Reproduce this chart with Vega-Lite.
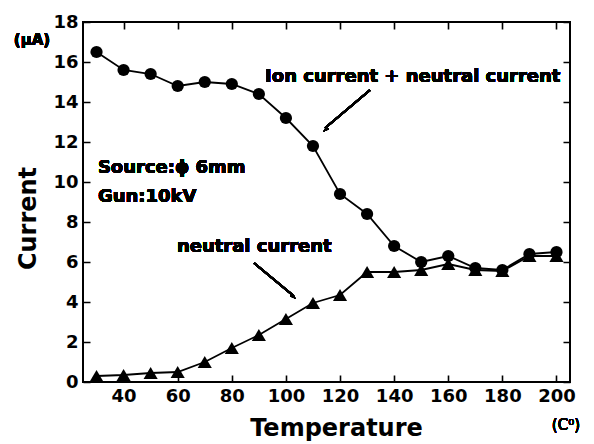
{
  "$schema": "https://vega.github.io/schema/vega-lite/v6.json",
  "width": 487,
  "height": 360,
  "autosize": "none",
  "padding": {"left": 83, "top": 22, "right": 24, "bottom": 62},
  "background": "white",
  "config": {
    "view": {"stroke": "black", "strokeWidth": 2},
    "axis": {
      "domain": false, "ticks": false, "grid": true, "gridColor": "black", "gridOpacity": 1, "gridWidth": 1.6,
      "labelFont": "DejaVu Sans", "labelFontWeight": "bold", "labelFontSize": 18,
      "labelColor": "black", "titleFont": "DejaVu Sans", "titleFontWeight": "bold", "titleFontSize": 24,
      "titleColor": "black"
    }
  },
  "data": {"values": [
    {"T": 30, "total": 16.5, "neutral": 0.3},
    {"T": 40, "total": 15.6, "neutral": 0.35},
    {"T": 50, "total": 15.4, "neutral": 0.45},
    {"T": 60, "total": 14.8, "neutral": 0.5},
    {"T": 70, "total": 15.0, "neutral": 1.0},
    {"T": 80, "total": 14.9, "neutral": 1.7},
    {"T": 90, "total": 14.4, "neutral": 2.35},
    {"T": 100, "total": 13.2, "neutral": 3.15},
    {"T": 110, "total": 11.8, "neutral": 3.95},
    {"T": 120, "total": 9.4, "neutral": 4.35},
    {"T": 130, "total": 8.4, "neutral": 5.5},
    {"T": 140, "total": 6.8, "neutral": 5.5},
    {"T": 150, "total": 6.0, "neutral": 5.6},
    {"T": 160, "total": 6.3, "neutral": 5.9},
    {"T": 170, "total": 5.7, "neutral": 5.6},
    {"T": 180, "total": 5.6, "neutral": 5.55},
    {"T": 190, "total": 6.4, "neutral": 6.3},
    {"T": 200, "total": 6.5, "neutral": 6.3}
  ]},
  "resolve": {"axis": {"x": "independent", "y": "independent"}},
  "layer": [
    {
      "mark": {"type": "line", "color": "black", "strokeWidth": 1.8},
      "encoding": {
        "x": {"field": "T", "type": "quantitative", "scale": {"domain": [25, 205], "nice": false, "zero": false},
          "axis": {"orient": "bottom", "values": [40, 60, 80, 100, 120, 140, 160, 180, 200], "gridDash": [7, 346, 7, 2000], "labelPadding": 5,
            "title": "Temperature", "titleX": 253, "titleY": 53, "titleBaseline": "alphabetic", "titleAnchor": null, "titleAlign": "center"}},
        "y": {"field": "total", "type": "quantitative", "scale": {"domain": [0, 18], "nice": false, "zero": false},
          "axis": {"orient": "left", "values": [0, 2, 4, 6, 8, 10, 12, 14, 16, 18], "gridDash": [7, 473, 7, 2000], "labelPadding": 5,
            "title": "Current", "titleX": -55, "titleY": 196, "titleAngle": -90, "titleBaseline": "middle", "titleAlign": "center"}}
      }
    },
    {
      "mark": {"type": "point", "shape": "circle", "filled": true, "color": "black", "opacity": 1, "size": 150},
      "encoding": {
        "x": {"field": "T", "type": "quantitative",
          "axis": {"orient": "top", "values": [30, 50, 70, 90, 110, 130, 150, 170, 190], "gridDash": [4, 352, 4, 2000], "labels": false, "title": null}},
        "y": {"field": "total", "type": "quantitative",
          "axis": {"orient": "right", "values": [1, 3, 5, 7, 9, 11, 13, 15, 17], "gridDash": [4, 479, 4, 2000], "labels": false, "title": null}}
      }
    },
    {
      "mark": {"type": "line", "color": "black", "strokeWidth": 1.8},
      "encoding": {
        "x": {"field": "T", "type": "quantitative", "axis": null},
        "y": {"field": "neutral", "type": "quantitative", "axis": null}
      }
    },
    {
      "mark": {"type": "point", "shape": "triangle-up", "filled": true, "color": "black", "opacity": 1, "size": 200},
      "encoding": {
        "x": {"field": "T", "type": "quantitative", "axis": null},
        "y": {"field": "neutral", "type": "quantitative", "axis": null}
      }
    },
    {
      "mark": {"type": "text", "text": "Ion current + neutral current", "align": "left", "baseline": "middle", "font": "DejaVu Sans", "fontWeight": "bold", "fontSize": 18, "color": "black"},
      "encoding": {"x": {"datum": 92.3, "type": "quantitative", "axis": null}, "y": {"datum": 15.25, "type": "quantitative", "axis": null}}
    },
    {
      "mark": {"type": "text", "text": "Source:ϕ 6mm", "align": "left", "baseline": "middle", "font": "DejaVu Sans", "fontWeight": "bold", "fontSize": 18, "color": "black"},
      "encoding": {"x": {"datum": 30.5, "type": "quantitative", "axis": null}, "y": {"datum": 10.7, "type": "quantitative", "axis": null}}
    },
    {
      "mark": {"type": "text", "text": "Gun:10kV", "align": "left", "baseline": "middle", "font": "DejaVu Sans", "fontWeight": "bold", "fontSize": 18, "color": "black"},
      "encoding": {"x": {"datum": 30.5, "type": "quantitative", "axis": null}, "y": {"datum": 9.25, "type": "quantitative", "axis": null}}
    },
    {
      "mark": {"type": "text", "text": "neutral current", "align": "left", "baseline": "middle", "font": "DejaVu Sans", "fontWeight": "bold", "fontSize": 18, "color": "black"},
      "encoding": {"x": {"datum": 59.7, "type": "quantitative", "axis": null}, "y": {"datum": 6.75, "type": "quantitative", "axis": null}}
    },
    {
      "mark": {"type": "text", "text": "(μA)", "align": "center", "baseline": "middle", "font": "DejaVu Sans", "fontWeight": "bold", "fontSize": 15, "color": "black"},
      "encoding": {"x": {"datum": 6.15, "type": "quantitative", "axis": null}, "y": {"datum": 17.1, "type": "quantitative", "axis": null}}
    },
    {
      "mark": {"type": "text", "text": "(C⁰)", "align": "center", "baseline": "middle", "font": "DejaVu Sans", "fontWeight": "normal", "fontSize": 15, "color": "black"},
      "encoding": {"x": {"datum": 203.5, "type": "quantitative", "axis": null}, "y": {"datum": -2.15, "type": "quantitative", "axis": null}}
    },
    {
      "mark": {"type": "rule", "color": "black", "strokeWidth": 1.8},
      "encoding": {"x": {"datum": 131.1, "type": "quantitative", "axis": null}, "y": {"datum": 14.6, "type": "quantitative", "axis": null},
        "x2": {"datum": 114.5}, "y2": {"datum": 12.7}}
    },
    {
      "mark": {"type": "rule", "color": "black", "strokeWidth": 1.8},
      "encoding": {"x": {"datum": 88.2, "type": "quantitative", "axis": null}, "y": {"datum": 5.95, "type": "quantitative", "axis": null},
        "x2": {"datum": 102.9}, "y2": {"datum": 4.3}}
    },
    {
      "mark": {"type": "point", "shape": "M0,0L0.45,1.5L-0.45,1.5Z", "filled": true, "color": "black", "opacity": 1, "size": 70, "angle": 228},
      "encoding": {"x": {"datum": 113.7, "type": "quantitative", "axis": null}, "y": {"datum": 12.5, "type": "quantitative", "axis": null}}
    },
    {
      "mark": {"type": "point", "shape": "M0,0L0.45,1.5L-0.45,1.5Z", "filled": true, "color": "black", "opacity": 1, "size": 70, "angle": 131},
      "encoding": {"x": {"datum": 103.7, "type": "quantitative", "axis": null}, "y": {"datum": 4.15, "type": "quantitative", "axis": null}}
    }
  ]
}
